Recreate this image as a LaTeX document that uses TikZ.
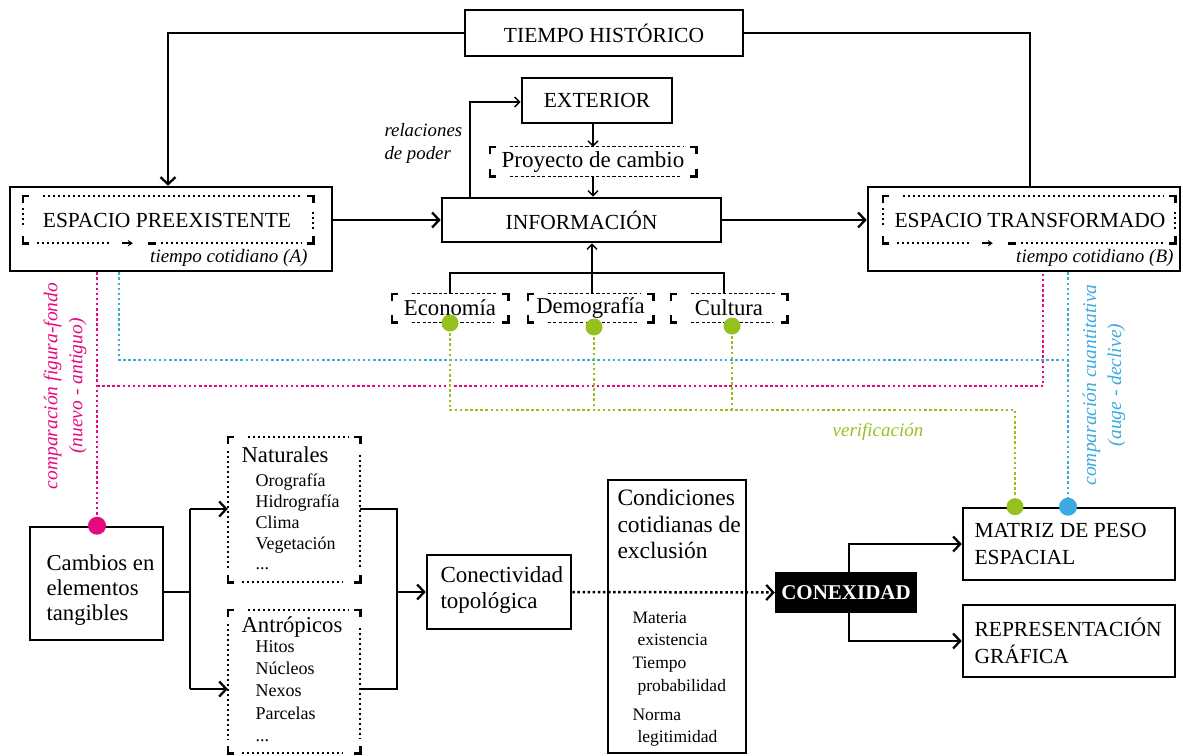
\documentclass[tikz,border=0pt]{standalone}
\usepackage{fontspec}
\setmainfont{Liberation Serif}
\usetikzlibrary{arrows.meta}
\definecolor{mag}{HTML}{E5097F}
\definecolor{cyb}{HTML}{3BAAE1}
\definecolor{lim}{HTML}{95C11F}
\newcommand\fs[2]{\fontsize{#1}{#2}\selectfont}
\tikzset{
  box/.style={draw, line width=2.6pt, inner sep=0pt},
  frm/.style={inner sep=0pt},
  big/.style={font=\fs{21.5}{26}},
  mix/.style={font=\fs{22.7}{26}},
  thk/.style={line width=2.5pt},
  thn/.style={line width=1.4pt},
  bar/.style={-{Straight Barb[length=7pt,width=15pt,line width=2.3pt]}},
  sbar/.style={-{Straight Barb[length=5pt,width=10pt,line width=1.4pt]}},
  brk/.style={line width=2.6pt},
  dts/.style={line width=2.4pt, dash pattern=on 2.4pt off 2.6pt},
  fdash/.style={line width=1.3pt, dash pattern=on 3.2pt off 2.2pt},
  cdot/.style={line width=2.5pt, dash pattern=on 2.5pt off 2.6pt},
  itl/.style={font=\itshape\fs{19}{24}},
  sml/.style={font=\fs{17.5}{21}},
}
\newcommand\mycorners[1]{%
 \draw[brk] ([yshift=-7pt]#1.north west)--(#1.north west)--([xshift=6pt]#1.north west);
 \draw[brk] ([xshift=-6pt]#1.north east)--(#1.north east)--([yshift=-7pt]#1.north east);
 \draw[brk] ([yshift=7pt]#1.south west)--(#1.south west)--([xshift=6pt]#1.south west);
 \draw[brk] ([xshift=-6pt]#1.south east)--(#1.south east)--([yshift=7pt]#1.south east);}
\newcommand\spaceframe[1]{%
 \mycorners{#1}
 \draw[dts] ([xshift=20pt]#1.north west)--([xshift=-11pt]#1.north east);
 \draw[dts] ([xshift=14pt]#1.south west)--([xshift=88pt]#1.south west);
 \draw[line width=1.8pt,-{Stealth[length=5pt,width=6.5pt]}] ([xshift=99pt]#1.south west)--([xshift=110pt]#1.south west);
 \draw[line width=2.6pt] ([xshift=125pt]#1.south west)--([xshift=133pt]#1.south west);
 \draw[dts] ([xshift=138pt]#1.south west)--([xshift=-11pt]#1.south east);
 \draw[dts] ([yshift=-12pt]#1.north west)--([yshift=-29pt]#1.north west);
 \draw[dts] ([yshift=-16pt]#1.north east)--([yshift=-34pt]#1.north east);}
\newcommand\dashframe[1]{%
 \mycorners{#1}
 \draw[fdash] ([xshift=20pt]#1.north west)--([xshift=-12pt]#1.north east);
 \draw[fdash] ([xshift=20pt]#1.south west)--([xshift=-14pt]#1.south east);}
\newcommand\dotframe[1]{%
 \mycorners{#1}
 \draw[dts] ([xshift=20pt]#1.north west)--([xshift=-12pt]#1.north east);
 \draw[dts] ([xshift=14pt]#1.south west)--([xshift=-18pt]#1.south east);
 \draw[dts] ([yshift=-14pt]#1.north west)--([yshift=14pt]#1.south west);
 \draw[dts] ([yshift=-18pt]#1.north east)--([yshift=14pt]#1.south east);}
\begin{document}
\begin{tikzpicture}[x=1pt,y=-1pt]
\useasboundingbox (0,0) rectangle (1183,755);
% ---------- top part
\node[box,big,minimum width=278pt,minimum height=46pt] (th) at (604,33) {TIEMPO HISTÓRICO};
\node[box,big,minimum width=150pt,minimum height=45pt] (ext) at (597,100.5) {EXTERIOR};
\node[frm,font=\fs{23}{26},minimum width=206pt,minimum height=29pt] (pc) at (593,161.5) {Proyecto de cambio};
\node[box,big,minimum width=279pt,minimum height=44pt] (inf) at (581.5,220) {INFORMACIÓN};
\node[anchor=west,align=left,font=\itshape\fs{18.8}{23}] (rel) at (381,143) {relaciones\\de poder};

\node[box,minimum width=322pt,minimum height=84pt] (ep) at (171,229) {};
\node[frm,minimum width=290pt,minimum height=47pt] (epf) at (168,219.5) {};
\node[big] (ept) at (167,220) {ESPACIO PREEXISTENTE};
\node[itl,anchor=east] (epa) at (311,258) {tiempo cotidiano (A)};

\node[box,minimum width=312pt,minimum height=84pt] (et) at (1024,229) {};
\node[frm,minimum width=292pt,minimum height=47pt] (etf) at (1029,219.5) {};
\node[big] (ett) at (1030,220) {ESPACIO TRANSFORMADO};
\node[itl,anchor=east] (eta) at (1177,258) {tiempo cotidiano (B)};

\node[frm,mix,minimum width=116pt,minimum height=28pt] (eco) at (450,308) {Economía};
\node[frm,mix,minimum width=125pt,minimum height=28pt] (dem) at (590.5,308) {Demografía};
\node[frm,mix,minimum width=116pt,minimum height=28pt] (cul) at (729,308) {Cultura};

\spaceframe{epf}
\spaceframe{etf}
\dashframe{pc}
\dashframe{eco}
\dashframe{dem}
\dashframe{cul}

% connectors top
\coordinate (a1) at (168,0);
\coordinate (a2) at (1030,0);
\draw[thk,bar] (th.west) -| (a1 |- ep.north);
\draw[thk] (th.east) -| (a2 |- et.north);
\draw[thk,bar] (ep.east |- inf.west) -- (inf.west);
\draw[thk,bar] (inf.east) -- (et.west |- inf.east);
\coordinate (a3) at (593,0);
\draw[thn,sbar] (a3 |- ext.south) -- (a3 |- pc.north);
\draw[thn,sbar] (a3 |- pc.south) -- (a3 |- inf.north);
\coordinate (r1) at (470,102);
\draw[thn,sbar] (r1 |- inf.north) -- (r1) -- (r1 -| ext.west);
\coordinate (t0) at (592,273);
\coordinate (tl) at (450,273);
\coordinate (tr) at (724,273);
\draw[thn,sbar] (t0) -- (t0 |- inf.south);
\draw[thn] (tl |- eco.north) -- (tl) -- (tr) -- (tr |- cul.north);
\draw[thn] (t0) -- (t0 |- dem.north);

% ---------- lower part nodes
\node[box,minimum width=133pt,minimum height=113pt] (cam) at (96.5,583.5) {};
\node[anchor=west,align=left,font=\fs{22.7}{25}] (camt) at (43,590) {Cambios en\\elementos\\tangibles};

\node[frm,minimum width=132pt,minimum height=145pt] (natf) at (294,509.5) {};
\node[frm,minimum width=132pt,minimum height=143pt] (antf) at (294,681.5) {};
\dotframe{natf}
\dotframe{antf}
\node[anchor=west,mix] (natt) at (238,455) {Naturales};
\node[anchor=west,align=left,font=\fs{18}{20.8}] (natl) at (252,522) {Orografía\\Hidrografía\\Clima\\Vegetación\\...};
\node[anchor=west,mix] (antt) at (238,627) {Antrópicos};
\node[anchor=west,align=left,font=\fs{18}{22.2}] (antl) at (252,691) {Hitos\\Núcleos\\Nexos\\Parcelas\\...};

\node[box,minimum width=144pt,minimum height=74pt] (con) at (499,592) {};
\node[anchor=west,align=left,font=\fs{23}{26}] (cont) at (437,590) {Conectividad\\topológica};

\node[box,minimum width=138pt,minimum height=273pt] (cond) at (677,616.5) {};
\node[anchor=west,align=left,font=\fs{23.5}{26.5}] (condt) at (614,524) {Condiciones\\cotidianas de\\exclusión};
\node[sml,anchor=west] (c1) at (629,618) {Materia};
\node[sml,anchor=west] (c2) at (634,640) {existencia};
\node[sml,anchor=west] (c3) at (629,665) {Tiempo};
\node[sml,anchor=west] (c4) at (634,687) {probabilidad};
\node[sml,anchor=west] (c5) at (629,715) {Norma};
\node[sml,anchor=west] (c6) at (634,738) {legitimidad};

\node[fill=black,text=white,font=\bfseries\fs{21}{25},minimum width=142pt,minimum height=41pt,inner sep=0pt] (cx) at (846,592.5) {CONEXIDAD};

\node[box,minimum width=212pt,minimum height=72pt] (mat) at (1069,544) {};
\node[anchor=west,align=left,font=\fs{21.5}{27}] (matt) at (971,544) {MATRIZ DE PESO\\ESPACIAL};
\node[box,minimum width=212pt,minimum height=72pt] (rep) at (1069,641) {};
\node[anchor=west,align=left,font=\fs{21.5}{27}] (rept) at (971,641) {REPRESENTACIÓN\\GRÁFICA};

% lower connectors
\coordinate (k1a) at (190,509);
\coordinate (k1b) at (190,689);
\draw[thk] (cam.east |- con.west) -- (k1a |- con.west);
\draw[thk] (k1a) -- (k1b);
\draw[thk,bar] (k1a) -- (k1a -| natf.west);
\draw[thk,bar] (k1b) -- (k1b -| antf.west);
\coordinate (k2a) at (397,509);
\coordinate (k2b) at (397,689);
\draw[thk] (k2a -| natf.east) -- (k2a) -- (k2b) -- (k2b -| antf.east);
\draw[thk,bar] (k2a |- con.west) -- (con.west);
\draw[cdot,bar] (con.east) -- (cx.west);
\coordinate (k3) at (849,0);
\draw[thk,bar] (k3 |- cx.north) |- (mat.west);
\draw[thk,bar] (k3 |- cx.south) |- (rep.west);

% ---------- coloured comparisons
\coordinate (b1) at (119,360);
\coordinate (bh) at (1068,360);
\draw[cdot,cyb] (b1 |- ep.south) -- (b1) -- (bh);
\draw[cdot,cyb] (bh |- et.south) -- (bh |- mat.north);
\coordinate (m1) at (97,386);
\coordinate (mh) at (1043,386);
\draw[cdot,mag] (m1 |- ep.south) -- (m1 |- cam.north);
\draw[cdot,mag] (m1) -- (mh) -- (mh |- et.south);
\coordinate (g1) at (450,323);
\coordinate (g2) at (594,327);
\coordinate (g3) at (732,326);
\coordinate (gh) at (1015,410);
\draw[cdot,lim] (g1) |- (gh) -- (gh |- mat.north);
\draw[cdot,lim] (g2) -- (g2 |- gh);
\draw[cdot,lim] (g3) -- (g3 |- gh);
\fill[lim] (g1) circle (8.5pt);
\fill[lim] (g2) circle (8.5pt);
\fill[lim] (g3) circle (8.5pt);
\fill[lim] (gh |- mat.north) circle (8.5pt);
\fill[cyb] (bh |- mat.north) circle (9pt);
\fill[mag] (m1 |- cam.north) circle (9pt);

\node[rotate=90,align=center,text=mag,font=\itshape\fs{19.5}{25}] (cff) at (65,386) {comparación figura-fondo\\(nuevo - antiguo)};
\node[rotate=90,align=center,text=cyb,font=\itshape\fs{19.5}{25}] (ccu) at (1104,385) {comparación cuantitativa\\(auge - declive)};
\node[text=lim,font=\itshape\fs{19}{22}] (ver) at (878,432) {verificación};
\end{tikzpicture}
\end{document}
